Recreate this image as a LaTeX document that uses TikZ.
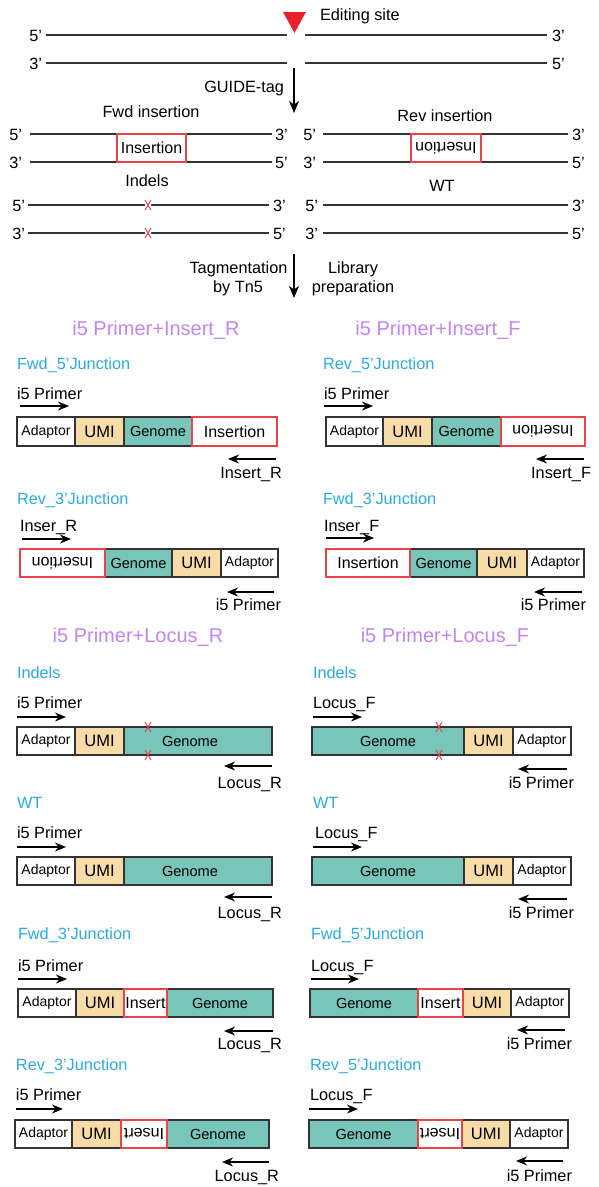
\documentclass[tikz,border=0pt]{standalone}
\usepackage{fontspec}
\setmainfont{Liberation Sans}
\usetikzlibrary{arrows.meta}
\definecolor{gencol}{HTML}{78C5BA}
\definecolor{umicol}{HTML}{F8DCA8}
\definecolor{boxline}{HTML}{333333}
\definecolor{insred}{HTML}{E8424A}
\definecolor{tricol}{HTML}{E8202A}
\definecolor{subblue}{HTML}{29ABE2}
\definecolor{ttlpurple}{HTML}{C384F0}
\newcommand\seg[7]{\node[#1, anchor=north west, minimum width={#4pt-#3pt}, minimum height={#6pt-#5pt}] (#2) at (#3,#5) {#7};}
\newcommand\upside[1]{\rotatebox[origin=c]{180}{#1}}
\newcommand\redx[3]{\draw[redx] (#2-3,#3-5) coordinate (#1a) -- (#2+3,#3+5) (#2-3,#3+5) -- (#2+3,#3-5);}
\begin{document}
\begin{tikzpicture}[x=1pt,y=-1pt,
 txt/.style={font=\fontsize{16.3}{19}\selectfont, inner sep=0pt, outer sep=0pt, text height=11.7pt, text depth=0pt},
 sub/.style={txt, text=subblue},
 ttl/.style={font=\fontsize{20}{24}\selectfont, inner sep=0pt, outer sep=0pt, text height=14.3pt, text depth=0pt, text=ttlpurple},
 segb/.style={draw=boxline, line width=1.2pt, inner sep=0pt, outer sep=0pt},
 adp/.style={segb, fill=white, font=\fontsize{14}{16}\selectfont},
 umib/.style={segb, fill=umicol, font=\fontsize{16.5}{18}\selectfont},
 genb/.style={segb, fill=gencol, font=\fontsize{14.6}{17}\selectfont},
 insb/.style={draw=insred, line width=1.2pt, fill=white, inner sep=0pt, outer sep=0pt, font=\fontsize{16}{18}\selectfont},
 strand/.style={draw=boxline, line width=1.3pt},
 parr/.style={line width=1.3pt, -{Stealth[length=11pt,width=9pt,inset=3.5pt]}},
 varr/.style={line width=1.3pt, -{Stealth[length=12pt,width=10pt,inset=3.5pt]}},
 redx/.style={draw=insred, line width=1pt},
]
\useasboundingbox (0,0) rectangle (598,1187);

% ---------------- top: editing site ----------------
\fill[tricol] (283,12) -- (306,12) -- (294.5,33) -- cycle;
\node[txt, anchor=west] (edit) at (320,15) {Editing site};
\node[txt, anchor=east] (l1) at (42,36) {5’};
\node[txt, anchor=west] (r1) at (552,36) {3’};
\node[txt, anchor=east] (l2) at (42,64) {3’};
\node[txt, anchor=west] (r2) at (552,64) {5’};
\draw[strand] (46,35) -- (287,35) (305,35) -- (547,35);
\draw[strand] (46,63) -- (287,63) (305,63) -- (547,63);
\coordinate (g1) at (294,68);
\coordinate (g2) at (294,113);
\draw[varr] (g1) -- (g2);
\node[txt, anchor=east] (guide) at (284,87) {GUIDE-tag};

% ---------------- after GUIDE-tag ----------------
\node[txt] (fwdins) at (151,112) {Fwd insertion};
\node[txt] (revins) at (445,116) {Rev insertion};
% left fwd insertion
\draw[strand] (30,134) -- (272,134) (30,162) -- (272,162);
\node[txt, anchor=east] at (22,135) {5’};
\node[txt, anchor=west] at (275,135) {3’};
\node[txt, anchor=east] at (22,163) {3’};
\node[txt, anchor=west] at (275,163) {5’};
\seg{insb}{finsbox}{117}{186}{134}{162}{Insertion}
% right rev insertion
\draw[strand] (323,134) -- (568,134) (323,162) -- (568,162);
\node[txt, anchor=east] at (316,135) {5’};
\node[txt, anchor=west] at (572,135) {3’};
\node[txt, anchor=east] at (316,163) {3’};
\node[txt, anchor=west] at (572,163) {5’};
\seg{insb}{rinsbox}{411}{481}{134}{162}{\upside{Insertion}}
% indels
\node[txt] (indels) at (147,181) {Indels};
\draw[strand] (28,205) -- (269,205) (28,233) -- (269,233);
\node[txt, anchor=east] at (25,206) {5’};
\node[txt, anchor=west] at (273,206) {3’};
\node[txt, anchor=east] at (25,234) {3’};
\node[txt, anchor=west] at (273,234) {5’};
\fill[white] (145,200) rectangle (151,210) (145,228) rectangle (151,238);
\redx{xa}{148}{205}
\redx{xb}{148}{233}
% WT
\node[txt] (wt) at (442,186) {WT};
\draw[strand] (323,205) -- (568,205) (323,233) -- (568,233);
\node[txt, anchor=east] at (318,206) {5’};
\node[txt, anchor=west] at (572,206) {3’};
\node[txt, anchor=east] at (318,234) {3’};
\node[txt, anchor=west] at (572,234) {5’};
% arrow 2
\coordinate (t1) at (294,254);
\coordinate (t2) at (294,298);
\draw[varr] (t1) -- (t2);
\node[txt] (tag1) at (238.5,268) {Tagmentation};
\node[txt] (tag2) at (238,287) {by Tn5};
\node[txt] (lib1) at (353,268) {Library};
\node[txt] (lib2) at (353,287) {preparation};

% ---------------- i5 Primer + Insert_R ----------------
\node[ttl] (ttl1) at (156,328) {i5 Primer+Insert\_R};
\node[sub, anchor=west] (s1) at (17,364) {Fwd\_5’Junction};
\node[txt, anchor=west] (p1) at (17,394) {i5 Primer};
\draw[parr] (20,406) -- (69,406);
\seg{adp}{a1}{17}{75}{417}{446}{Adaptor}
\seg{umib}{u1}{75}{124}{417}{446}{UMI}
\seg{genb}{n1}{124}{192}{417}{446}{Genome}
\seg{insb}{i1}{192}{277}{417}{446}{Insertion}
\draw[parr] (276,459) -- (228,459);
\node[txt, anchor=east] (q1) at (282,473) {Insert\_R};

\node[sub, anchor=west] (s2) at (17,499) {Rev\_3’Junction};
\node[txt, anchor=west] (p2) at (20,526) {Inser\_R};
\draw[parr] (22,539) -- (71,539);
\seg{genb}{n2}{105}{172}{549}{577}{Genome}
\seg{umib}{u2}{172}{221}{549}{577}{UMI}
\seg{adp}{a2}{221}{278}{549}{577}{Adaptor}
\seg{insb}{i2}{20}{105}{549}{577}{\upside{Insertion}}
\draw[parr] (274,592) -- (227,592);
\node[txt, anchor=east] (q2) at (281,605) {i5 Primer};

% ---------------- i5 Primer + Insert_F ----------------
\node[ttl] (ttl2) at (438,328) {i5 Primer+Insert\_F};
\node[sub, anchor=west] (s3) at (323,364) {Rev\_5’Junction};
\node[txt, anchor=west] (p3) at (324,394) {i5 Primer};
\draw[parr] (324,406) -- (373,406);
\seg{adp}{a3}{326}{383}{417}{446}{Adaptor}
\seg{umib}{u3}{383}{432}{417}{446}{UMI}
\seg{genb}{n3}{432}{501}{417}{446}{Genome}
\seg{insb}{i3}{501}{585}{417}{446}{\upside{Insertion}}
\draw[parr] (584,459) -- (536,459);
\node[txt, anchor=east] (q3) at (591,473) {Insert\_F};

\node[sub, anchor=west] (s4) at (323,499) {Fwd\_3’Junction};
\node[txt, anchor=west] (p4) at (324,526) {Inser\_F};
\draw[parr] (326,538) -- (374,538);
\seg{genb}{n4}{410}{477}{549}{577}{Genome}
\seg{umib}{u4}{477}{527}{549}{577}{UMI}
\seg{adp}{a4}{527}{584}{549}{577}{Adaptor}
\seg{insb}{i4}{326}{410}{549}{577}{Insertion}
\draw[parr] (582,592) -- (534,592);
\node[txt, anchor=east] (q4) at (586,605) {i5 Primer};

% ---------------- i5 Primer + Locus_R ----------------
\node[ttl] (ttl3) at (138,635) {i5 Primer+Locus\_R};
\node[sub, anchor=west] (s5) at (17,673) {Indels};
\node[txt, anchor=west] (p5) at (17,703) {i5 Primer};
\draw[parr] (17,717) -- (66,717);
\seg{adp}{a5}{17}{75}{727}{755}{Adaptor}
\seg{umib}{u5}{75}{124}{727}{755}{UMI}
\seg{genb}{n5}{124}{272}{727}{755}{\hspace*{-16pt}Genome}
\redx{xc}{148}{727}
\redx{xd}{148}{755}
\draw[parr] (272,766) -- (224,766);
\node[txt, anchor=east] (q5) at (282,783) {Locus\_R};

\node[sub, anchor=west] (s6) at (17,803) {WT};
\node[txt, anchor=west] (p6) at (17,833) {i5 Primer};
\draw[parr] (17,847) -- (66,847);
\seg{adp}{a6}{17}{75}{857}{885}{Adaptor}
\seg{umib}{u6}{75}{124}{857}{885}{UMI}
\seg{genb}{n6}{124}{272}{857}{885}{\hspace*{-16pt}Genome}
\draw[parr] (272,897) -- (224,897);
\node[txt, anchor=east] (q6) at (282,913) {Locus\_R};

\node[sub, anchor=west] (s7) at (18,934) {Fwd\_3’Junction};
\node[txt, anchor=west] (p7) at (18,966) {i5 Primer};
\draw[parr] (18,979) -- (67,979);
\seg{adp}{a7}{18}{76}{989}{1017}{Adaptor}
\seg{umib}{u7}{76}{124}{989}{1017}{UMI}
\seg{genb}{n7}{167}{273}{989}{1017}{Genome}
\seg{insb}{i7}{124}{167}{989}{1017}{Insert}
\draw[parr] (273,1031) -- (224,1031);
\node[txt, anchor=east] (q7) at (282,1044) {Locus\_R};

\node[sub, anchor=west] (s8) at (16,1065) {Rev\_3’Junction};
\node[txt, anchor=west] (p8) at (16,1095) {i5 Primer};
\draw[parr] (16,1109) -- (63,1109);
\seg{adp}{a8}{15}{72}{1120}{1148}{Adaptor}
\seg{umib}{u8}{72}{121}{1120}{1148}{UMI}
\seg{genb}{n8}{167}{269}{1120}{1148}{Genome}
\seg{insb}{i8}{121}{167}{1120}{1148}{\upside{Insert}}
\draw[parr] (269,1162) -- (222,1162);
\node[txt, anchor=east] (q8) at (279,1176) {Locus\_R};

% ---------------- i5 Primer + Locus_F ----------------
\node[ttl] (ttl4) at (445,635) {i5 Primer+Locus\_F};
\node[sub, anchor=west] (s9) at (313,673) {Indels};
\node[txt, anchor=west] (p9) at (313,703) {Locus\_F};
\draw[parr] (313,717) -- (362,717);
\seg{genb}{n9}{312}{464}{727}{755}{Genome}
\seg{umib}{u9}{464}{513}{727}{755}{UMI}
\seg{adp}{a9}{513}{571}{727}{755}{Adaptor}
\redx{xe}{439}{727}
\redx{xf}{439}{755}
\draw[parr] (567,769) -- (518,769);
\node[txt, anchor=east] (q9) at (574,783) {i5 Primer};

\node[sub, anchor=west] (s10) at (313,803) {WT};
\node[txt, anchor=west] (p10) at (315,833) {Locus\_F};
\draw[parr] (313,847) -- (362,847);
\seg{genb}{n10}{312}{464}{857}{885}{Genome}
\seg{umib}{u10}{464}{513}{857}{885}{UMI}
\seg{adp}{a10}{513}{571}{857}{885}{Adaptor}
\draw[parr] (567,899) -- (518,899);
\node[txt, anchor=east] (q10) at (574,913) {i5 Primer};

\node[sub, anchor=west] (s11) at (311,934) {Fwd\_5’Junction};
\node[txt, anchor=west] (p11) at (311,966) {Locus\_F};
\draw[parr] (311,979) -- (359,979);
\seg{genb}{n11}{310}{418}{989}{1017}{Genome}
\seg{umib}{u11}{463}{511}{989}{1017}{UMI}
\seg{adp}{a11}{511}{569}{989}{1017}{Adaptor}
\seg{insb}{i11}{418}{463}{989}{1017}{Insert}
\draw[parr] (565,1030) -- (517,1030);
\node[txt, anchor=east] (q11) at (572,1044) {i5 Primer};

\node[sub, anchor=west] (s12) at (310,1065) {Rev\_5’Junction};
\node[txt, anchor=west] (p12) at (310,1095) {Locus\_F};
\draw[parr] (309,1109) -- (358,1109);
\seg{genb}{n12}{309}{418}{1120}{1148}{Genome}
\seg{umib}{u12}{462}{510}{1120}{1148}{UMI}
\seg{adp}{a12}{510}{568}{1120}{1148}{Adaptor}
\seg{insb}{i12}{418}{462}{1120}{1148}{\upside{Insert}}
\draw[parr] (563,1161) -- (516,1161);
\node[txt, anchor=east] (q12) at (572,1176) {i5 Primer};
\end{tikzpicture}
\end{document}
